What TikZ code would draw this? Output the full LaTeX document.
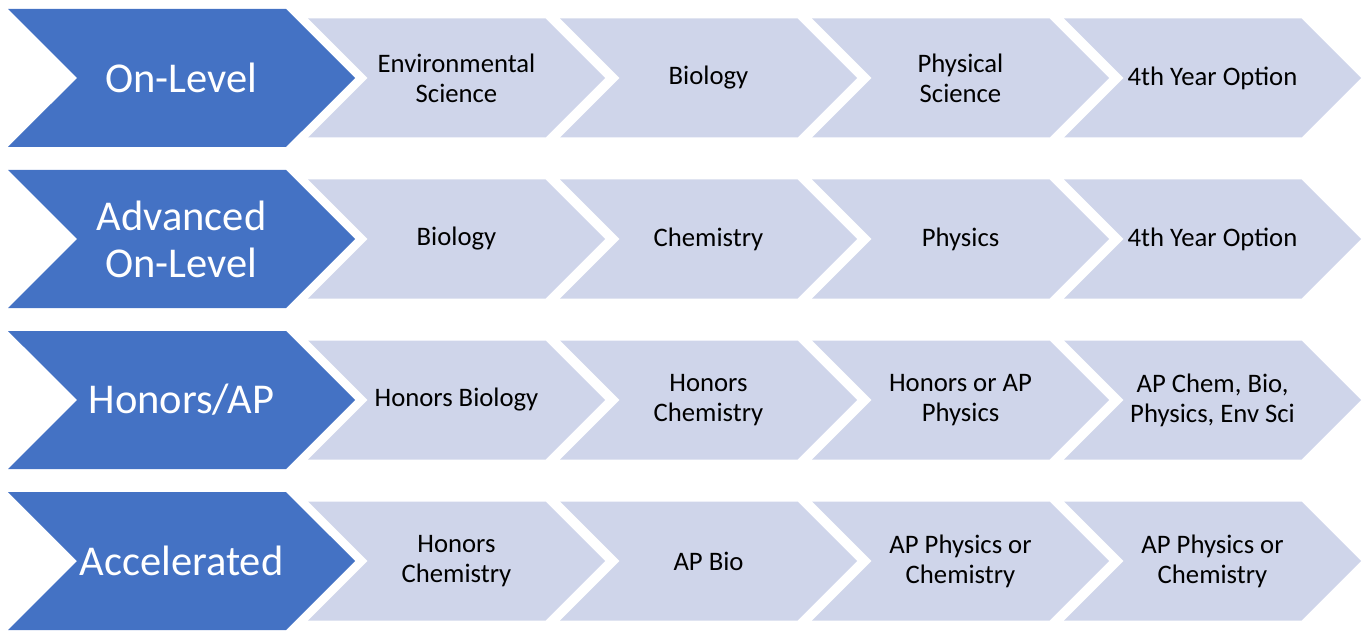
\documentclass[tikz,border=0pt]{standalone}
\usepackage{fontspec}
\setmainfont{Carlito}
\usepackage{tikz}
\usetikzlibrary{shapes,positioning}
\definecolor{trackblue}{HTML}{4472C4}
\definecolor{courselight}{HTML}{CFD5EA}
\tikzset{stage/.style={fill=trackblue, text=white, signal, signal to=east, signal from=west, minimum height=138pt, minimum width=347pt, inner sep=0pt, align=center, font=\fontsize{42.5}{47}\selectfont}}
\tikzset{course/.style={fill=courselight, text=black, signal, signal to=east, signal from=west, minimum height=119pt, minimum width=297pt, inner sep=0pt, align=center, font=\fontsize{26.7}{30}\selectfont}}

\begin{document}
\begin{tikzpicture}[x=1pt,y=1pt]
    \useasboundingbox (0,0) rectangle (1364,630);
    \node[stage] at (181.5,552) (onlevel) {On-Level};
    \node[course, right of=onlevel, node distance=275pt] (ol1) {Environmental\\Science};
    \node[course, right of=ol1, node distance=252pt] (ol2) {Biology};
    \node[course, right of=ol2, node distance=252pt] (ol3) {Physical\\Science};
    \node[course, right of=ol3, node distance=252pt] (ol4) {4th Year Option};

    \node[stage] at (181.5,391) (advanced) {Advanced\\On-Level};
    \node[course, right of=advanced, node distance=275pt] (adv1) {Biology};
    \node[course, right of=adv1, node distance=252pt] (adv2) {Chemistry};
    \node[course, right of=adv2, node distance=252pt] (adv3) {Physics};
    \node[course, right of=adv3, node distance=252pt] (adv4) {4th Year Option};

    \node[stage] at (181.5,230) (honors) {Honors/AP};
    \node[course, right of=honors, node distance=275pt] (hon1) {Honors Biology};
    \node[course, right of=hon1, node distance=252pt] (hon2) {Honors\\Chemistry};
    \node[course, right of=hon2, node distance=252pt] (hon3) {Honors or AP\\Physics};
    \node[course, right of=hon3, node distance=252pt] (hon4) {AP Chem, Bio,\\Physics, Env Sci};

    \node[stage] at (181.5,69) (accel) {Accelerated};
    \node[course, right of=accel, node distance=275pt] (acc1) {Honors\\Chemistry};
    \node[course, right of=acc1, node distance=252pt] (acc2) {AP Bio};
    \node[course, right of=acc2, node distance=252pt] (acc3) {AP Physics or\\Chemistry};
    \node[course, right of=acc3, node distance=252pt] (acc4) {AP Physics or\\Chemistry};
\end{tikzpicture}
\end{document}
